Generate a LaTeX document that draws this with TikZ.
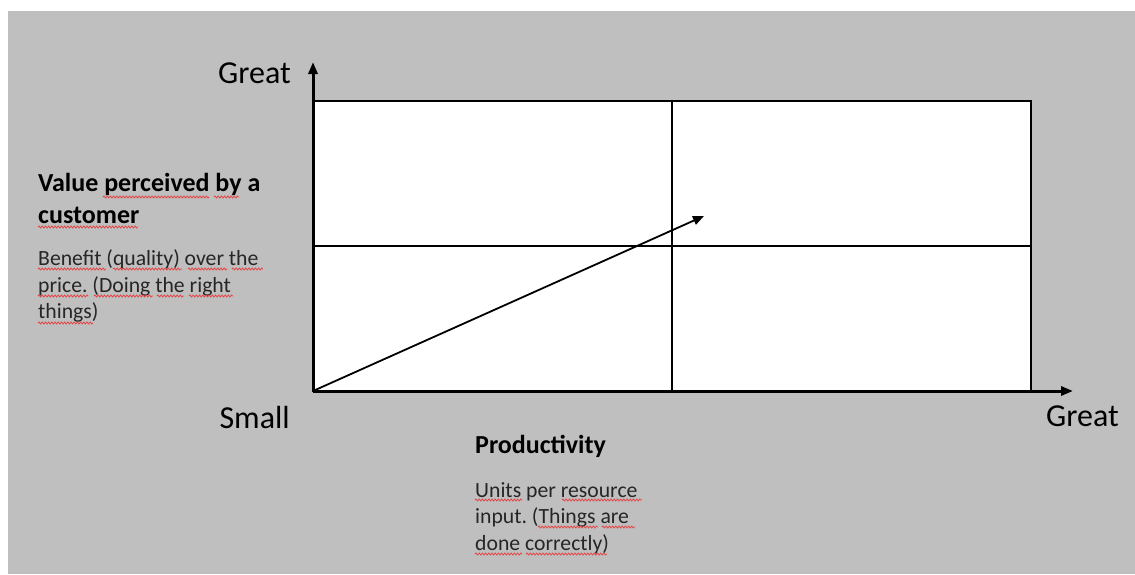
\documentclass[tikz,border=0pt]{standalone}
\usepackage{fontspec}
\setmainfont{Carlito}
\usetikzlibrary{arrows.meta,decorations.pathmorphing}
\definecolor{bg}{RGB}{191,191,191}
\definecolor{squig}{RGB}{228,70,70}
\frenchspacing
\begin{document}
\begin{tikzpicture}[x=1pt,y=-1pt,
  axis/.style={line width=3pt,-{Triangle[length=12pt,width=9pt]}},
  grid/.style={line width=1.6pt},
  trend/.style={line width=1.8pt,-{Triangle[length=11pt,width=9pt]}},
  big/.style={inner sep=0pt,font=\fontsize{32}{38}\selectfont},
  head/.style={inner sep=0pt,anchor=base west,font=\bfseries\fontsize{26}{30}\selectfont},
  body/.style={inner sep=0pt,anchor=base west,font=\fontsize{21.7}{26}\selectfont,text=black!85},
  wave/.style={squig,line width=0.8pt,decorate,decoration={snake,segment length=3.2pt,amplitude=1pt}}]
\useasboundingbox (0,0) rectangle (1135,574);
\fill[white] (0,0) rectangle (1135,574);
\fill[bg] (8,11) rectangle (1135,574);
% box
\coordinate (o) at (313,391);
\coordinate (tl) at (313,101);
\coordinate (br) at (1031,391);
\coordinate (ytip) at (313,62);
\coordinate (xtip) at (1073,391);
\coordinate (mt) at (672,101);
\coordinate (mb) at (672,391);
\coordinate (ml) at (313,246);
\coordinate (mr) at (1031,246);
\coordinate (atip) at (704,216);
\draw[grid,fill=white] (tl) rectangle (br);
\draw[grid] (mt) -- (mb);
\draw[grid] (ml) -- (mr);
\draw[axis] (o) -- (ytip);
\draw[axis] (o) -- (xtip);
\draw[trend] (o) -- (atip);
% labels
\node[big,anchor=base east] (gy) at (291,83) {Great};
\node[big,anchor=base east] (sm) at (290,428) {Small};
\node[big,anchor=base west] (gx) at (1046,426) {Great};
\node[head] (v1) at (38,191) {Value perceived by a};
\node[head] (v2) at (38,223) {customer};
\node[body] (b1) at (38,265) {Benefit (quality) over the};
\node[body] (b2) at (38,292) {price. (Doing the right};
\node[body] (b3) at (38,318) {things)};
\node[head] (p1) at (475,453) {Productivity};
\node[body] (u1) at (475,497) {Units per resource};
\node[body] (u2) at (475,523) {input. (Things are};
\node[body] (u3) at (475,550) {done correctly)};
% spell-check squiggles
\draw[wave] (103,197) -- (209,197);
\draw[wave] (214,197) -- (239,197);
\draw[wave] (38,227) -- (138,227);
\draw[wave] (38,269) -- (106,269);
\draw[wave] (113,269) -- (182,269);
\draw[wave] (188,269) -- (227,269);
\draw[wave] (232,269) -- (263,269);
\draw[wave] (38,296) -- (88,296);
\draw[wave] (94,296) -- (153,296);
\draw[wave] (157,296) -- (184,296);
\draw[wave] (189,296) -- (233,296);
\draw[wave] (38,323) -- (93,323);
\draw[wave] (475,500) -- (522,500);
\draw[wave] (562,500) -- (642,500);
\draw[wave] (538,527) -- (598,527);
\draw[wave] (602,527) -- (635,527);
\draw[wave] (475,554) -- (522,554);
\draw[wave] (526,554) -- (607,554);
\end{tikzpicture}
\end{document}
